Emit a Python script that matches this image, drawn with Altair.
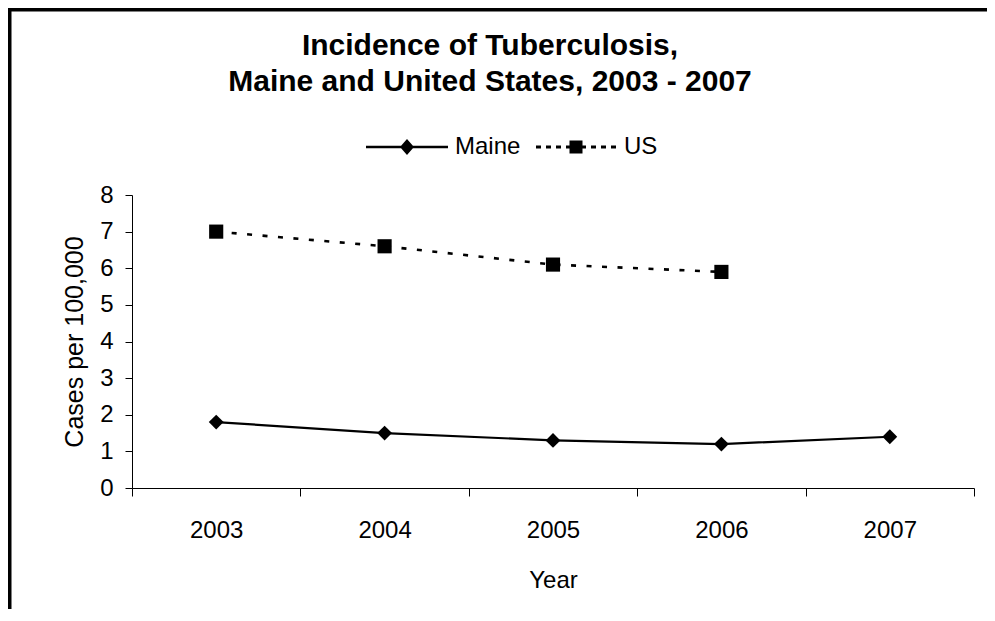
import altair as alt
import pandas as pd

# ---- data ----
years = ["2003", "2004", "2005", "2006", "2007"]
maine = [1.8, 1.5, 1.3, 1.2, 1.4]
us = [7.0, 6.6, 6.1, 5.9, None]
series_names = ["Maine", "US"]
y_ticks = [0, 1, 2, 3, 4, 5, 6, 7, 8]

rows = []
for y, m, u in zip(years, maine, us):
    rows.append({"year": y, "series": "Maine", "value": m})
    if u is not None:
        rows.append({"year": y, "series": "US", "value": u})
df = pd.DataFrame(rows)

FONT = "Liberation Sans"
W, H = 842, 293

x_enc = alt.X(
    "year:O",
    sort=years,
    scale=alt.Scale(type="band", domain=years, paddingInner=0, paddingOuter=0),
    axis=alt.Axis(
        title="Year", labelAngle=0, tickBand="extent", tickSize=8,
        labelPadding=22, labelFontSize=24, titleFontSize=24,
        labelFont=FONT, titleFont=FONT, labelColor="black", titleColor="black",
        domainColor="black", tickColor="black", domainWidth=1, tickWidth=1,
        titleFontWeight="normal", titleBaseline="alphabetic",
        titleX=W / 2, titleY=99, grid=False, labelOverlap=False,
    ),
)
y_enc = alt.Y(
    "value:Q",
    scale=alt.Scale(domain=[0, 8], nice=False, zero=True),
    axis=alt.Axis(
        title="Cases per 100,000", values=y_ticks, tickCount=20, format="d",
        tickSize=7, labelPadding=12, labelOverlap=False, labelFlush=False,
        labelFontSize=24, titleFontSize=25, labelFont=FONT, titleFont=FONT,
        labelColor="black", titleColor="black", domainColor="black",
        tickColor="black", domainWidth=1, tickWidth=1, grid=False,
        titleFontWeight="normal", titleAngle=270, titleBaseline="alphabetic",
        titleAlign="center", titleX=-50, titleY=H / 2,
    ),
)

base = alt.Chart(df).encode(x=x_enc, y=y_enc)

maine_line = base.transform_filter(alt.datum.series == "Maine").mark_line(
    color="black", strokeWidth=2.2)
us_line = base.transform_filter(alt.datum.series == "US").mark_line(
    color="black", strokeWidth=2.6, strokeDash=[5, 10.5])
maine_pts = base.transform_filter(alt.datum.series == "Maine").mark_point(
    filled=True, shape="diamond", size=220, color="black", opacity=1)
us_pts = base.transform_filter(alt.datum.series == "US").mark_point(
    filled=True, shape="square", size=200, color="black", opacity=1)

# legend symbols: line with marker, drawn as filled custom paths (unit = 41 px)
r = 41.0
def rect(x0, x1, h):
    return f"M{x0/r:.4f},{-h/r:.4f}L{x1/r:.4f},{-h/r:.4f}L{x1/r:.4f},{h/r:.4f}L{x0/r:.4f},{h/r:.4f}Z"

maine_sym = rect(-41, 41, 1.2) + f"M0,{-8/r:.4f}L{7/r:.4f},0L0,{8/r:.4f}L{-7/r:.4f},0Z"
us_sym = "".join(rect(a, b, 1.5) for a, b in
                 [(-40, -35), (-30, -25), (-20, -15), (-10, -5), (5, 10), (15, 20), (25, 30), (35, 40)])
us_sym += rect(-6.5, 6.5, 6.5)

legend_layer = base.transform_filter("false").mark_point(
    filled=True, color="black", opacity=1).encode(
    shape=alt.Shape(
        "series:N",
        scale=alt.Scale(domain=series_names, range=[maine_sym, us_sym]),
        legend=alt.Legend(
            title=None, orient="none", legendX=234, legendY=-89,
            direction="horizontal", symbolSize=r * r * 4, symbolStrokeWidth=0,
            symbolFillColor="black", symbolOpacity=1,
            labelFontSize=24, labelFont=FONT, labelColor="black",
            labelOffset=7, columnPadding=14, padding=0,
        ),
    ),
)

# chart frame (thick border, left and top visible)
one = alt.Data(values=[{"k": 1}])
frame_left = alt.Chart(one).mark_rule(color="black", strokeWidth=4).encode(
    x=alt.value(-122.5), y=alt.value(-185.5), y2=alt.value(H + 130))
frame_top = alt.Chart(one).mark_rule(color="black", strokeWidth=4).encode(
    x=alt.value(-124.5), x2=alt.value(W + 30), y=alt.value(-185.5))

chart = alt.layer(
    frame_left, frame_top, us_line, maine_line, us_pts, maine_pts, legend_layer
).properties(
    width=W, height=H,
    background="white",
    title=alt.Title(
        ["Incidence of Tuberculosis,", "Maine and United States, 2003 - 2007"],
        font=FONT, fontSize=30, fontWeight="bold", color="black",
        anchor="middle", frame="group", dx=-63, dy=93, lineHeight=36,
    ),
    autosize=alt.AutoSizeParams(type="none"),
    padding={"left": 124, "top": 187, "right": 13, "bottom": 121},
).configure_view(strokeWidth=0, stroke="transparent")

chart.save("out.html", embed_options={"renderer": "svg", "actions": False})
